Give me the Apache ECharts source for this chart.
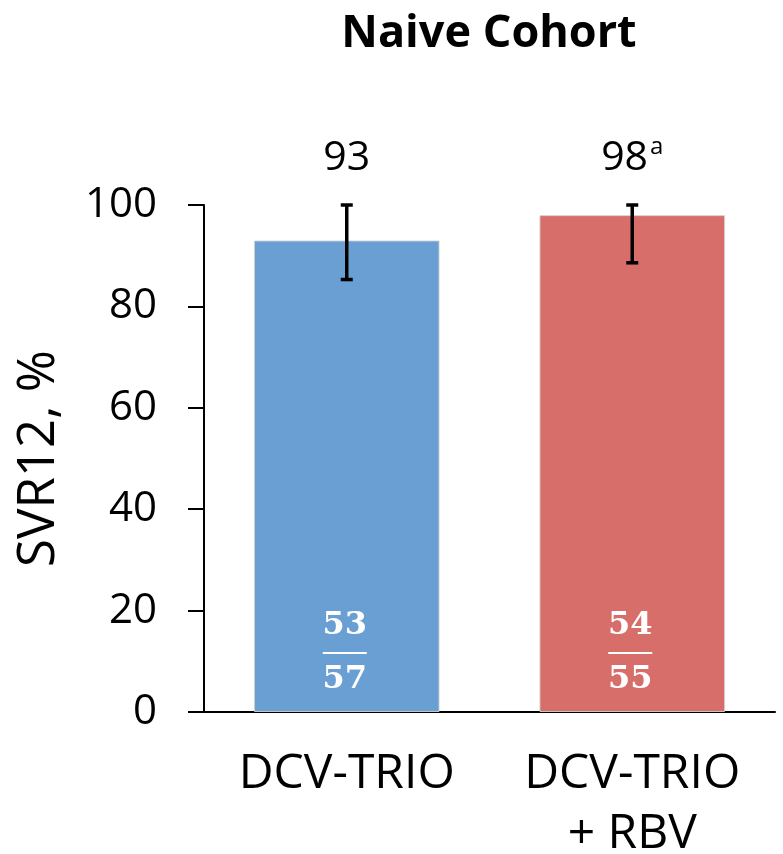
<!DOCTYPE html>
<html>
<head>
<meta charset="utf-8">
<script src="https://cdn.jsdelivr.net/npm/echarts@6/dist/echarts.min.js"></script>
<style>
  html, body { margin: 0; padding: 0; background: #fff; }
  #chart { width: 783px; height: 854px; }
</style>
</head>
<body>
<div id="chart"></div>
<script>
// Treatment arms and SVR12 outcomes
const categories = ['DCV-TRIO', 'DCV-TRIO\n+ RBV'];
const svr12 = [93, 98];
const ciLow = [85.3, 88.6];
const ciHigh = [100, 100];
const responders = [53, 54];
const patients = [57, 55];
const footnotes = ['', 'a'];
const barColors = ['#6A9FD4', '#D76E69'];
const yTicks = { min: 0, max: 100, interval: 20 };

const FONT = "'Open Sans', 'Noto Sans', sans-serif";

const chart = echarts.init(document.getElementById('chart'), null, { renderer: 'canvas' });

chart.setOption({
  animation: false,
  backgroundColor: '#ffffff',
  title: {
    text: 'Naive Cohort',
    left: 484,
    top: 7,
    textAlign: 'center',
    textStyle: { fontFamily: FONT, fontWeight: 'bold', fontSize: 45, color: '#000' }
  },
  grid: { left: 204, right: 8, top: 205, bottom: 142, containLabel: false, outerBoundsMode: 'none' },
  xAxis: {
    type: 'category',
    data: categories,
    axisLine: { lineStyle: { color: '#000', width: 2 } },
    axisTick: { show: false },
    axisLabel: {
      color: '#000', fontFamily: FONT, fontSize: 48, lineHeight: 60, margin: 32,
      interval: 0
    }
  },
  yAxis: {
    type: 'value',
    min: yTicks.min, max: yTicks.max, interval: yTicks.interval,
    name: 'SVR12, %',
    nameLocation: 'middle',
    nameGap: 139,
    nameTextStyle: { color: '#000', fontFamily: FONT, fontSize: 51 },
    axisLine: { show: true, lineStyle: { color: '#000', width: 2 } },
    axisTick: { show: true, length: 16, lineStyle: { color: '#000', width: 2 } },
    axisLabel: { color: '#000', fontFamily: FONT, fontSize: 42, margin: 47 },
    splitLine: { show: false }
  },
  series: [
    {
      type: 'bar',
      barWidth: '65%',
      data: svr12.map((v, i) => ({ value: v, itemStyle: { color: barColors[i] } })),
      itemStyle: { borderColor: 'rgba(210,210,210,0.9)', borderWidth: 1 },
      silent: true
    },
    {
      // 95% CI whiskers
      type: 'custom',
      silent: true,
      z: 5,
      data: categories.map((c, i) => [i, ciHigh[i], ciLow[i]]),
      renderItem: function (params, api) {
        const hi = api.coord([api.value(0), api.value(1)]);
        const lo = api.coord([api.value(0), api.value(2)]);
        const cap = 6;
        const style = { stroke: '#000', lineWidth: 3.5 };
        return {
          type: 'group',
          children: [
            { type: 'line', shape: { x1: hi[0], y1: hi[1], x2: lo[0], y2: lo[1] }, style: style },
            { type: 'line', shape: { x1: hi[0] - cap, y1: hi[1], x2: hi[0] + cap, y2: hi[1] }, style: style },
            { type: 'line', shape: { x1: lo[0] - cap, y1: lo[1], x2: lo[0] + cap, y2: lo[1] }, style: style }
          ]
        };
      }
    },
    {
      // response rate above each bar, with footnote marker
      type: 'custom',
      silent: true,
      z: 6,
      data: categories.map((c, i) => [i, yTicks.max]),
      renderItem: function (params, api) {
        const i = params.dataIndex;
        const p = api.coord([api.value(0), api.value(1)]);
        const sup = footnotes[i] ? '{s|' + footnotes[i] + '}' : '';
        return {
          type: 'text',
          x: p[0],
          y: p[1] - 47,
          style: {
            text: '{v|' + svr12[i] + '}' + sup,
            align: 'center',
            verticalAlign: 'middle',
            rich: {
              v: { fontFamily: FONT, fontSize: 41, color: '#000' },
              s: { fontFamily: FONT, fontSize: 24, color: '#000', verticalAlign: 'top', padding: [0, 0, 22, 2] }
            }
          }
        };
      }
    },
    {
      // responders / patients fraction inside each bar
      type: 'custom',
      silent: true,
      z: 6,
      data: categories.map((c, i) => [i, responders[i], patients[i]]),
      renderItem: function (params, api) {
        const base = api.coord([api.value(0), 0]);
        const x = base[0] - 2, y = base[1];
        const tStyle = { fontFamily: "'DejaVu Serif', serif", fontWeight: 'bold', fontSize: 32, fill: '#fff', align: 'center', verticalAlign: 'middle' };
        return {
          type: 'group',
          children: [
            { type: 'text', x: x, y: y - 86, style: Object.assign({ text: String(api.value(1)) }, tStyle) },
            { type: 'line', shape: { x1: x - 22, y1: y - 59, x2: x + 22, y2: y - 59 }, style: { stroke: '#fff', lineWidth: 2 } },
            { type: 'text', x: x, y: y - 32, style: Object.assign({ text: String(api.value(2)) }, tStyle) }
          ]
        };
      }
    }
  ]
});
</script>
</body>
</html>
